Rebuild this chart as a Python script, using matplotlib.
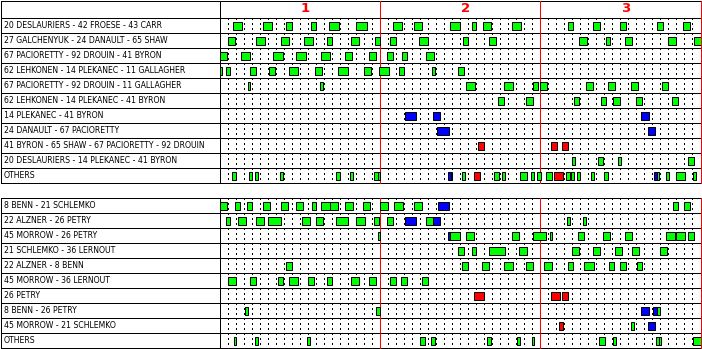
import matplotlib.pyplot as plt

# -----------------------------
# Data (minutes of game time)
# -----------------------------
fwd_lines = [
    "20 DESLAURIERS - 42 FROESE - 43 CARR",
    "27 GALCHENYUK - 24 DANAULT - 65 SHAW",
    "67 PACIORETTY - 92 DROUIN - 41 BYRON",
    "62 LEHKONEN - 14 PLEKANEC - 11 GALLAGHER",
    "67 PACIORETTY - 92 DROUIN - 11 GALLAGHER",
    "62 LEHKONEN - 14 PLEKANEC - 41 BYRON",
    "14 PLEKANEC - 41 BYRON",
    "24 DANAULT - 67 PACIORETTY",
    "41 BYRON - 65 SHAW - 67 PACIORETTY - 92 DROUIN",
    "20 DESLAURIERS - 14 PLEKANEC - 41 BYRON",
    "OTHERS",
]

fwd_shifts = [
    [(1.67, 2.83, "EV"), (5.42, 6.46, "EV"), (8.29, 8.96, "EV"), (11.38, 12.04, "EV"),
     (13.67, 14.83, "EV"), (17.04, 18.33, "EV"), (21.67, 22.71, "EV"), (24.29, 25.21, "EV"),
     (28.79, 30.0, "EV"), (31.5, 31.96, "EV"), (32.79, 33.83, "EV"), (36.42, 37.58, "EV"),
     (43.42, 44.08, "EV"), (46.54, 47.46, "EV"), (49.92, 50.71, "EV"), (54.54, 55.33, "EV"),
     (57.87, 58.71, "EV")],
    [(1.04, 1.88, "EV"), (4.5, 5.63, "EV"), (7.67, 8.58, "EV"), (10.54, 11.63, "EV"),
     (13.42, 14.0, "EV"), (16.42, 17.33, "EV"), (19.38, 20.0, "EV"), (21.29, 22.0, "EV"),
     (24.92, 25.96, "EV"), (30.38, 30.96, "EV"), (33.54, 34.46, "EV"), (44.79, 45.79, "EV"),
     (48.25, 48.67, "EV"), (50.54, 51.42, "EV"), (55.96, 56.88, "EV"), (59.13, 60.0, "EV")],
    [(0.0, 0.96, "EV"), (2.67, 3.83, "EV"), (6.67, 7.83, "EV"), (9.5, 10.71, "EV"),
     (12.67, 13.71, "EV"), (15.67, 16.46, "EV"), (18.63, 19.46, "EV"), (20.88, 21.58, "EV"),
     (22.75, 23.33, "EV"), (25.75, 26.71, "EV")],
    [(0.0, 0.29, "EV"), (0.75, 1.33, "EV"), (3.79, 4.58, "EV"), (6.17, 6.92, "EV"),
     (8.63, 9.71, "EV"), (11.92, 12.71, "EV"), (14.79, 15.96, "EV"), (18.04, 18.83, "EV"),
     (19.92, 21.08, "EV"), (22.42, 22.96, "EV"), (26.5, 26.83, "EV"), (29.67, 30.42, "EV")],
    [(3.54, 3.83, "EV"), (12.54, 12.83, "EV"), (30.79, 31.83, "EV"), (35.42, 36.58, "EV"),
     (39.04, 39.71, "EV"), (39.92, 40.83, "EV"), (45.67, 46.58, "EV"), (48.5, 49.33, "EV"),
     (51.29, 52.21, "EV"), (55.17, 55.96, "EV")],
    [(34.67, 35.46, "EV"), (38.17, 39.08, "EV"), (44.17, 44.83, "EV"), (47.63, 48.17, "EV"),
     (49.13, 49.96, "EV"), (52.0, 52.67, "EV"), (56.5, 57.17, "EV")],
    [(23.13, 24.46, "PP"), (26.67, 27.46, "PP"), (52.54, 53.54, "PP")],
    [(27.17, 28.58, "PP"), (53.42, 54.29, "PP")],
    [(32.17, 32.96, "PK"), (41.29, 42.08, "PK"), (42.67, 43.46, "PK")],
    [(44.0, 44.29, "EV"), (47.25, 47.83, "EV"), (49.75, 50.04, "EV"), (58.42, 59.21, "EV")],
    [(1.5, 1.96, "EV"), (3.63, 3.96, "EV"), (4.42, 4.83, "EV"), (7.5, 7.83, "EV"),
     (14.54, 14.96, "EV"), (16.25, 16.58, "EV"), (19.29, 19.75, "EV"), (19.75, 20.04, "EV"),
     (28.45, 28.83, "PP"), (28.83, 28.96, "EV"), (30.21, 30.63, "EV"), (31.75, 32.5, "PK"),
     (34.25, 34.83, "EV"), (35.25, 35.63, "EV"), (37.42, 38.33, "EV"), (38.88, 39.21, "EV"),
     (39.54, 40.08, "EV"), (40.67, 41.46, "EV"), (41.75, 42.83, "PK"), (43.25, 43.75, "EV"),
     (43.88, 44.25, "EV"), (44.63, 44.96, "EV"), (46.38, 46.71, "EV"), (48.0, 48.46, "EV"),
     (54.17, 54.63, "PP"), (54.63, 54.88, "EV"), (55.75, 56.08, "EV"), (57.0, 58.1, "EV"),
     (59.02, 59.42, "EV")],
]

def_pairs = [
    "8 BENN - 21 SCHLEMKO",
    "22 ALZNER - 26 PETRY",
    "45 MORROW - 26 PETRY",
    "21 SCHLEMKO - 36 LERNOUT",
    "22 ALZNER - 8 BENN",
    "45 MORROW - 36 LERNOUT",
    "26 PETRY",
    "8 BENN - 26 PETRY",
    "45 MORROW - 21 SCHLEMKO",
    "OTHERS",
]

def_shifts = [
    [(0.0, 0.96, "EV"), (1.92, 2.58, "EV"), (3.42, 4.08, "EV"), (5.42, 6.29, "EV"),
     (7.67, 8.54, "EV"), (9.54, 10.42, "EV"), (11.54, 12.04, "EV"), (12.67, 13.75, "EV"),
     (13.75, 14.79, "EV"), (15.67, 16.58, "EV"), (17.92, 18.79, "EV"), (19.96, 21.04, "EV"),
     (21.71, 22.92, "EV"), (24.29, 25.21, "EV"), (27.21, 28.58, "PP"), (56.54, 57.17, "EV"),
     (57.92, 58.67, "EV")],
    [(0.79, 1.33, "EV"), (2.29, 3.33, "EV"), (4.54, 5.54, "EV"), (6.04, 7.58, "EV"),
     (10.29, 11.21, "EV"), (11.96, 12.92, "EV"), (14.54, 15.96, "EV"), (17.04, 18.17, "EV"),
     (19.29, 19.83, "EV"), (20.92, 21.58, "EV"), (23.17, 24.46, "PP"), (25.79, 26.67, "EV"),
     (26.67, 27.46, "PP"), (43.29, 43.71, "EV"), (45.29, 45.67, "EV")],
    [(19.79, 20.04, "EV"), (28.46, 28.75, "PP"), (28.75, 29.96, "EV"), (30.79, 31.79, "EV"),
     (36.46, 37.33, "EV"), (39.04, 40.67, "EV"), (41.17, 41.46, "EV"), (44.67, 45.46, "EV"),
     (47.79, 48.71, "EV"), (50.54, 51.42, "EV"), (55.67, 56.83, "EV"), (57.0, 58.08, "EV"),
     (58.42, 59.21, "EV")],
    [(29.67, 30.42, "EV"), (31.5, 31.96, "EV"), (33.54, 35.58, "EV"), (37.29, 38.29, "EV"),
     (43.92, 44.83, "EV"), (46.54, 47.46, "EV"), (49.29, 50.17, "EV"), (51.42, 52.29, "EV"),
     (54.92, 55.83, "EV")],
    [(8.29, 8.96, "EV"), (30.29, 30.96, "EV"), (32.75, 33.58, "EV"), (35.42, 36.58, "EV"),
     (38.17, 39.08, "EV"), (40.42, 41.46, "EV"), (43.42, 44.08, "EV"), (45.42, 46.71, "EV"),
     (48.54, 49.21, "EV"), (49.92, 50.71, "EV"), (52.04, 52.71, "EV")],
    [(1.04, 1.96, "EV"), (3.79, 4.58, "EV"), (7.29, 7.83, "EV"), (8.67, 9.71, "EV"),
     (11.04, 11.71, "EV"), (13.42, 13.96, "EV"), (16.42, 17.33, "EV"), (18.67, 19.46, "EV"),
     (21.29, 22.0, "EV"), (22.67, 23.33, "EV"), (25.29, 25.96, "EV")],
    [(31.79, 32.96, "PK"), (41.29, 42.46, "PK"), (42.67, 43.46, "PK")],
    [(3.17, 3.58, "EV"), (19.54, 19.96, "EV"), (52.54, 53.54, "PP"), (54.13, 54.58, "PP"),
     (54.58, 55.0, "EV")],
    [(42.29, 42.83, "PK"), (51.29, 51.71, "EV"), (53.42, 54.38, "PP")],
    [(1.79, 2.08, "EV"), (4.42, 4.83, "EV"), (10.92, 11.21, "EV"), (24.96, 25.58, "EV"),
     (26.42, 26.83, "EV"), (33.29, 33.83, "EV"), (37.04, 37.42, "EV"), (38.92, 39.21, "EV"),
     (47.29, 48.04, "EV"), (49.04, 49.46, "EV"), (54.5, 54.79, "EV"), (54.79, 55.08, "EV"),
     (59.04, 60.0, "EV")],
]

periods = ["1", "2", "3"]

# -----------------------------
# Style
# -----------------------------
STATE_COLORS = {"EV": "#00ff00", "PP": "#0000ff", "PK": "#ff0000"}
PX = 0.72  # one pixel in points at 100 dpi
W, H = 702, 349

plt.rcParams["font.family"] = ["DejaVu Sans"]

fig = plt.figure(figsize=(W / 100, H / 100), dpi=100)


def px_axes(x0, y0, x1, y1):
    return fig.add_axes([x0 / W, 1 - y1 / H, (x1 - x0) / W, (y1 - y0) / H])


def draw_table(ax, labels, shifts, header=0.0):
    n = len(labels)
    ax.set_xlim(0, 60)
    ax.set_ylim(n, -header)
    ax.axis("off")

    # label column edges, in axes fraction
    x_left = -219.3 / 480.7
    x_text = -215.8 / 480.7
    ytr = ax.get_yaxis_transform()

    # minute dotted lines
    minutes = [m for m in range(1, 60) if m % 20 != 0]
    ax.vlines(minutes, 0, n, colors="black", linewidth=PX,
              linestyles=(0, (2, 3)), antialiased=False)

    # row lines and borders
    for i in range(n + 1):
        ax.plot([x_left, 1], [i, i], transform=ytr, color="black",
                lw=PX, clip_on=False, antialiased=False)
    if header:
        ax.plot([x_left, 1], [-header, -header], transform=ytr,
                color="black", lw=PX, clip_on=False, antialiased=False)
    ax.plot([x_left, x_left], [-header, n], transform=ytr, color="black",
            lw=PX, clip_on=False, antialiased=False)
    ax.axvline(0, color="black", lw=PX, clip_on=False, antialiased=False)
    for p in (20, 40, 60):
        ax.axvline(p, color="#ff0000", lw=PX, clip_on=False,
                   antialiased=False)

    # shifts
    for i, row in enumerate(shifts):
        for start, end, state in row:
            ax.barh(i + 0.51, end - start, left=start, height=0.48,
                    color=STATE_COLORS[state], edgecolor="black",
                    linewidth=PX, zorder=3)

    # labels
    for i, label in enumerate(labels):
        ax.text(x_text, i + 0.5, label, transform=ytr, ha="left",
                va="center", fontsize=5.6, color="black")


ax_top = px_axes(219.8, 0.5, 700.5, 183.3)
draw_table(ax_top, fwd_lines, fwd_shifts, header=17.8 / 15)
for k, name in enumerate(periods):
    ax_top.text(20 * k + 10.1, -0.62, name, color="#ff0000", ha="left",
                va="center", fontsize=9.5, fontweight="bold")

ax_bot = px_axes(219.8, 198.3, 700.5, 348.3)
draw_table(ax_bot, def_pairs, def_shifts)

fig.savefig("out.png", dpi=100)
